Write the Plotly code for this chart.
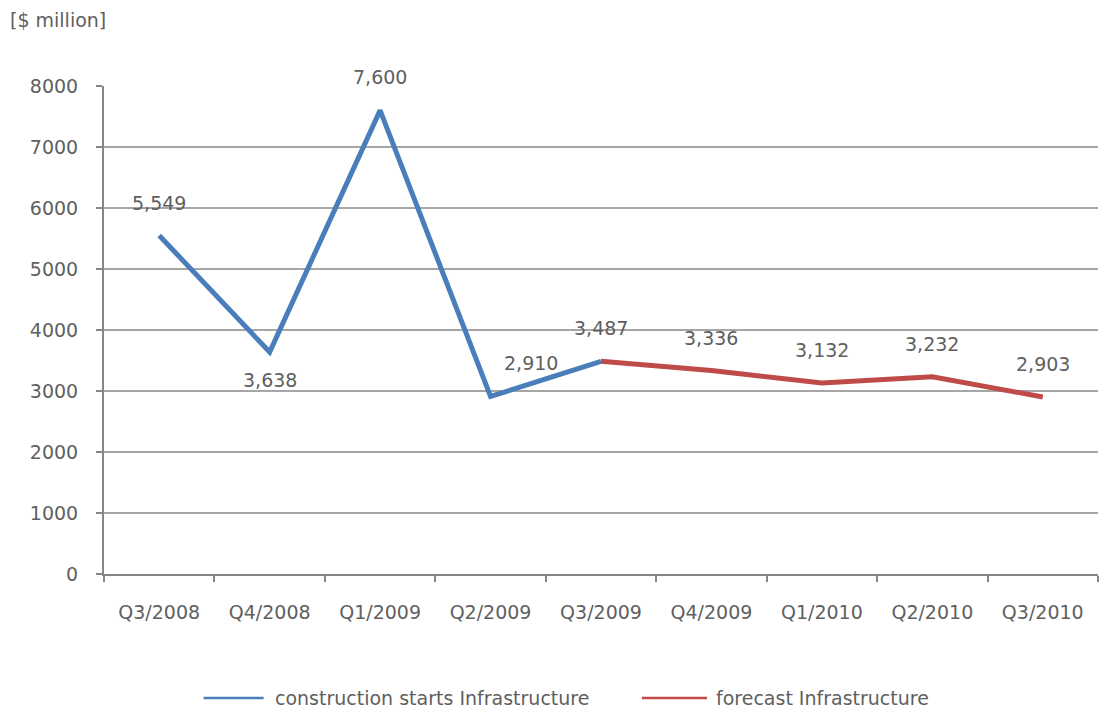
import plotly.graph_objects as go

quarters = ["Q3/2008", "Q4/2008", "Q1/2009", "Q2/2009", "Q3/2009",
            "Q4/2009", "Q1/2010", "Q2/2010", "Q3/2010"]
starts_quarters = quarters[:5]
starts_values = [5549, 3638, 7600, 2910, 3487]
forecast_quarters = quarters[4:]
forecast_values = [3487, 3336, 3132, 3232, 2903]
y_ticks = [0, 1000, 2000, 3000, 4000, 5000, 6000, 7000, 8000]
series_names = ["construction starts Infrastructure", "forecast Infrastructure"]

TEXT = "#5f5f5f"
BLUE = "#4a7ebb"
RED = "#be4b48"
AXIS = "#868686"
FONT = "DejaVu Sans, Liberation Sans, sans-serif"
FS = 19

fig = go.Figure()
fig.add_trace(go.Scatter(
    x=starts_quarters, y=starts_values, mode="lines",
    name=series_names[0], line=dict(color=BLUE, width=5),
))
fig.add_trace(go.Scatter(
    x=forecast_quarters, y=forecast_values, mode="lines",
    name=series_names[1], line=dict(color=RED, width=5),
))

# value labels: one per quarter, the forecast series supplies the overlap point
label_points = list(zip(starts_quarters, starts_values)) + list(
    zip(forecast_quarters[1:], forecast_values[1:]))
for q, v in label_points:
    below = q == "Q4/2008"
    shift_x = 40 if q == "Q2/2009" else 0
    fig.add_annotation(
        x=q, y=v, text=f"{v:,}", showarrow=False,
        xshift=shift_x, yshift=-28 if below else 33,
        font=dict(size=FS, color=TEXT, family=FONT),
    )

# unit caption above the value axis
fig.add_annotation(
    xref="paper", yref="paper", x=-0.097, y=1.135,
    xanchor="left", yanchor="middle", text="[$ million]", showarrow=False,
    font=dict(size=FS, color=TEXT, family=FONT),
)

# legend below the chart: long thin key lines followed by the series names
legend_y = -0.254
for (x0, x1, tx), color, name in zip(
        [(0.1002, 0.1606, 0.170), (0.5412, 0.6066, 0.6137)],
        [BLUE, RED], series_names):
    fig.add_shape(type="line", xref="paper", yref="paper",
                  x0=x0, x1=x1, y0=legend_y, y1=legend_y,
                  line=dict(color=color, width=2.5))
    fig.add_annotation(
        xref="paper", yref="paper", x=tx, y=legend_y,
        xanchor="left", yanchor="middle", text=name, showarrow=False,
        font=dict(size=FS, color=TEXT, family=FONT),
    )

fig.update_layout(
    width=1102, height=714,
    margin=dict(l=104, r=4, t=86, b=140),
    paper_bgcolor="white", plot_bgcolor="white",
    font=dict(family=FONT, color=TEXT, size=FS),
    showlegend=False,
    xaxis=dict(
        type="category", categoryorder="array", categoryarray=quarters,
        range=[-0.5, 8.5], tickson="boundaries",
        ticks="outside", ticklen=6, tickwidth=2, tickcolor=AXIS,
        showline=True, linecolor=AXIS, linewidth=2,
        showgrid=False, tickfont=dict(size=FS, color=TEXT),
        ticklabelstandoff=20, automargin=False,
    ),
    yaxis=dict(
        range=[0, 8000], tickvals=y_ticks, tickformat="d",
        ticks="outside", ticklen=6, tickwidth=2, tickcolor=AXIS,
        showline=True, linecolor=AXIS, linewidth=2,
        showgrid=True, gridcolor="#a6a6a6", gridwidth=1.5,
        zeroline=False, tickfont=dict(size=FS, color=TEXT),
        ticklabelstandoff=14, automargin=False,
    ),
)

fig.write_html("out.html")
